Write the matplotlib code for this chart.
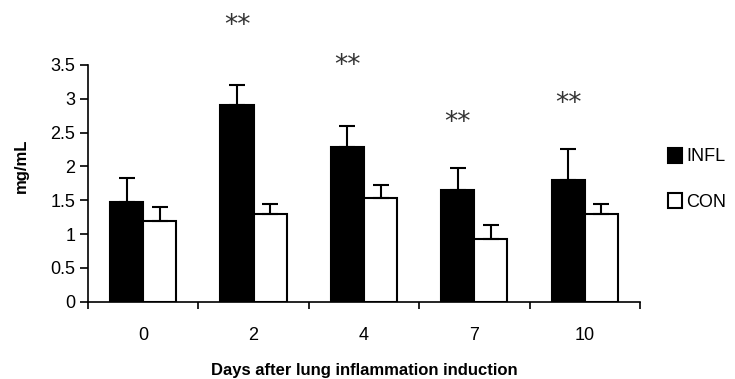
import matplotlib
matplotlib.use("Agg")
import matplotlib.pyplot as plt
import numpy as np
from matplotlib.patches import Patch

plt.rcParams["font.family"] = ["Liberation Sans", "DejaVu Sans"]

days = ["0", "2", "4", "7", "10"]
infl = [1.48, 2.91, 2.29, 1.65, 1.80]
infl_err = [0.35, 0.29, 0.31, 0.32, 0.46]
con = [1.19, 1.29, 1.54, 0.92, 1.29]
con_err = [0.21, 0.16, 0.18, 0.21, 0.16]
star_y = [None, 4.07, 3.49, 2.64, 2.92]

fig = plt.figure(figsize=(7.35, 3.79), dpi=100)
ax = fig.add_axes([0.1197, 0.204, 0.751, 0.6245])

x = np.arange(len(days))
w = 0.3
zeros = np.zeros(len(days))
ax.bar(x - w / 2, infl, w, color="black", edgecolor="black", linewidth=1.5,
       yerr=[zeros, infl_err], error_kw=dict(ecolor="black", elinewidth=1.5, capsize=6, capthick=1.5),
       zorder=3)
ax.bar(x + w / 2, con, w, color="white", edgecolor="black", linewidth=1.5,
       yerr=[zeros, con_err], error_kw=dict(ecolor="black", elinewidth=1.5, capsize=6, capthick=1.5),
       zorder=3)

# significance marks above the INFL bars
for i, yy in enumerate(star_y):
    if yy is not None:
        ax.text(x[i] - w / 2, yy, "**", ha="center", va="center", fontsize=19,
                family="DejaVu Sans", color="#333333", clip_on=False)

ax.set_xlim(-0.5, len(days) - 0.5)
ax.set_ylim(0, 3.5)
ax.set_yticks(np.arange(0, 3.51, 0.5))
ax.set_yticklabels(["0", "0.5", "1", "1.5", "2", "2.5", "3", "3.5"])
ax.set_xticks(x)
ax.set_xticklabels(days)
ax.set_xticks(np.arange(-0.5, len(days), 1.0), minor=True)
ax.tick_params(axis="x", which="major", length=0, pad=18, labelsize=13)
ax.tick_params(axis="x", which="minor", length=5, width=1.2, direction="out")
ax.tick_params(axis="y", length=6, width=1.2, direction="out", labelsize=13, pad=3)

for s in ["top", "right"]:
    ax.spines[s].set_visible(False)
for s in ["left", "bottom"]:
    ax.spines[s].set_linewidth(1.2)

ax.set_ylabel("mg/mL", fontsize=12, fontweight="bold", va="center")
ax.yaxis.set_label_coords(-0.12, 0.574)
ax.set_xlabel("Days after lung inflammation induction", fontsize=12, fontweight="bold", labelpad=14)

handles = [Patch(facecolor="black", edgecolor="black", linewidth=1.5, label="INFL"),
           Patch(facecolor="white", edgecolor="black", linewidth=1.5, label="CON")]
fig.legend(handles=handles, loc="center left", bbox_to_anchor=(0.887, 0.527), frameon=False,
           fontsize=13, handlelength=0.75, handleheight=0.9, handletextpad=0.25, labelspacing=1.55)

fig.savefig("out.png", dpi=100)
